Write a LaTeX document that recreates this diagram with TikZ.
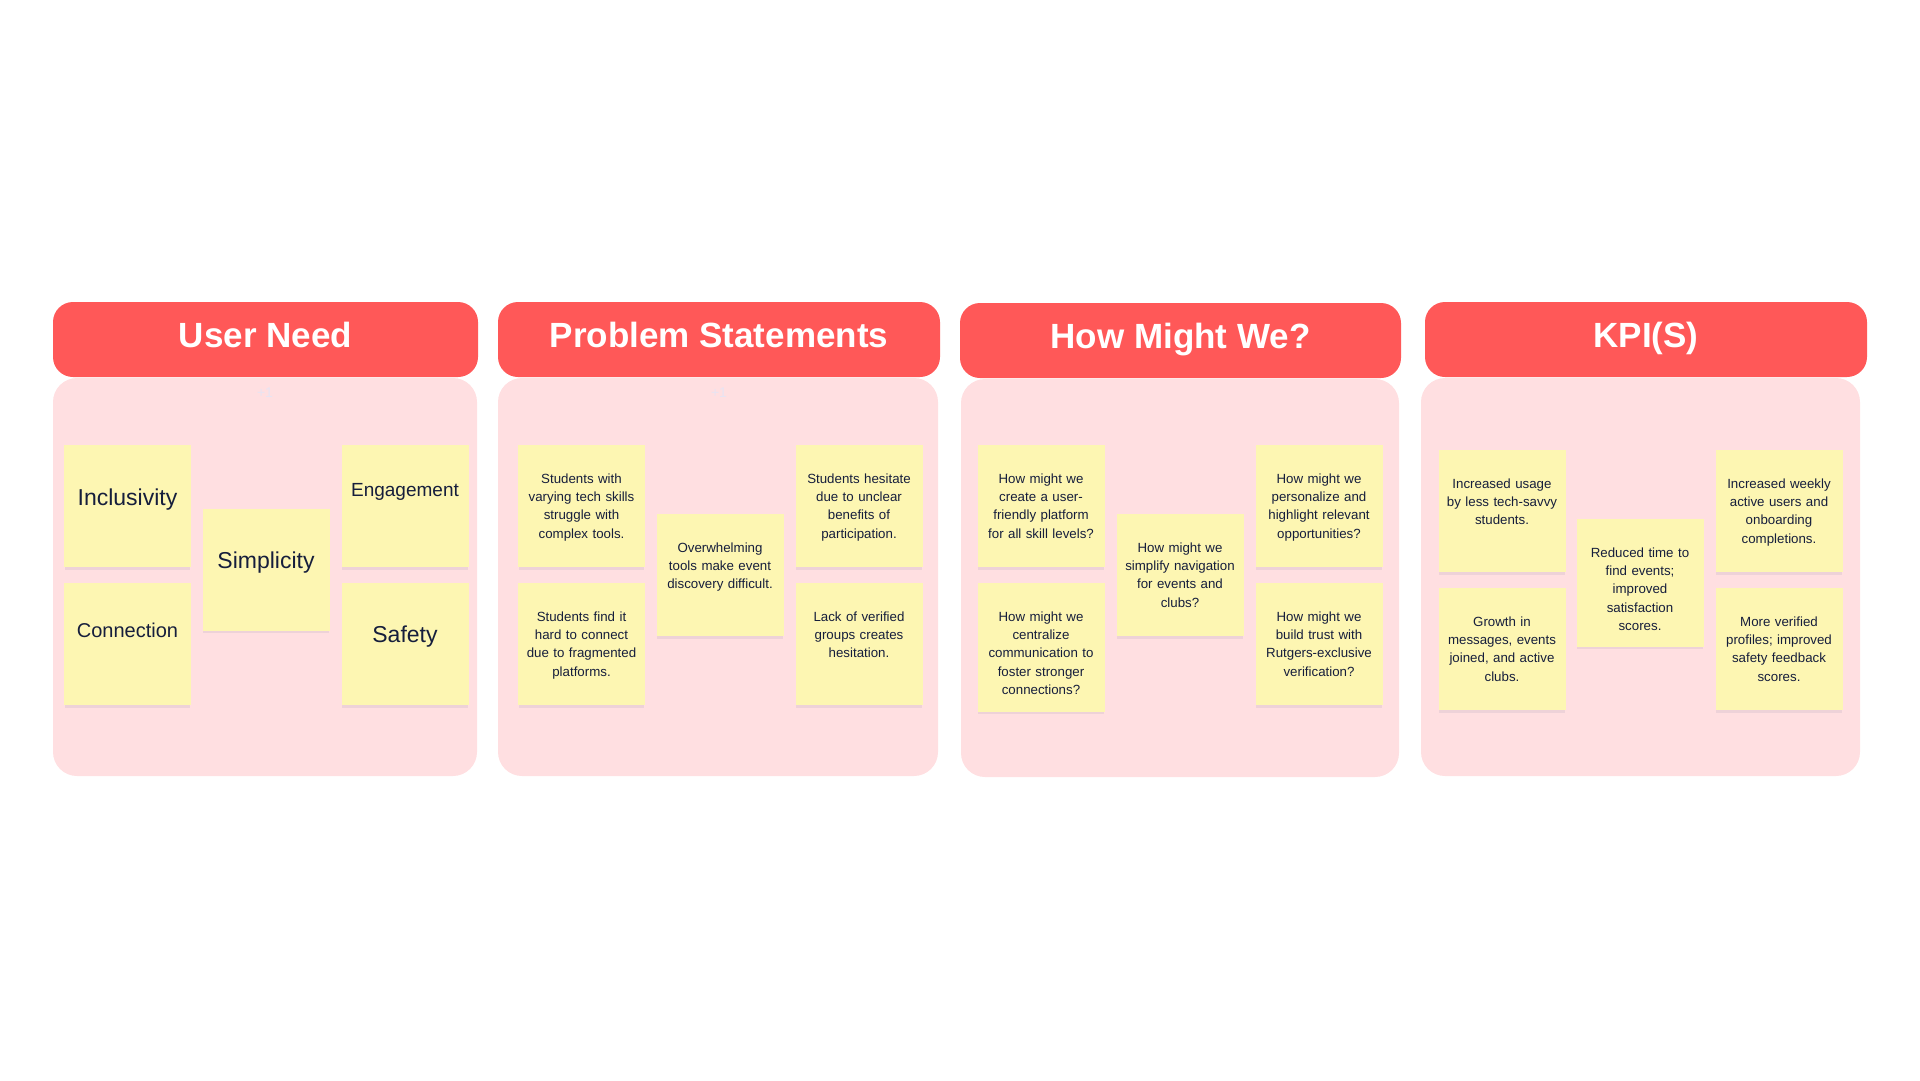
\documentclass[tikz,border=0pt]{standalone}
\usepackage{fontspec}
\setmainfont{Liberation Sans}
\usetikzlibrary{shadows}

\definecolor{headred}{RGB}{255,88,88}
\definecolor{boardpink}{RGB}{255,223,225}
\definecolor{noteyellow}{RGB}{253,246,178}
\definecolor{noteshadow}{RGB}{238,210,216}
\definecolor{inknavy}{RGB}{22,30,60}
\definecolor{faintmark}{RGB}{232,228,242}

\begin{document}
\begin{tikzpicture}[x=1pt, y=-1pt,
        header/.style={rectangle, rounded corners=20pt, fill=headred, minimum width=442pt, minimum height=75pt, inner sep=0pt, text=white, font=\fontsize{35}{40}\selectfont\bfseries, text height=25pt, text depth=10pt},
        board/.style={rectangle, rounded corners=24pt, fill=boardpink, minimum width=439pt, minimum height=398pt, inner sep=0pt},
        sticky/.style={rectangle, fill=noteyellow, text=inknavy, inner xsep=3pt, inner ysep=0pt, text width=121pt, align=center, text height=38pt, text depth=84pt, font=\fontsize{13.3}{18.4}\selectfont, drop shadow={shadow xshift=0pt, shadow yshift=-3.5pt, shadow scale=0.985, fill=noteshadow, opacity=1}},
        word/.style={font=\fontsize{23}{28}\selectfont, text height=60pt, text depth=62pt},
        plusmark/.style={text=faintmark, font=\fontsize{14}{16}\selectfont}
    ]
        \useasboundingbox (0,0) rectangle (1920,1080);

        % Boards and headers
        \node[board, minimum width=424pt] (un_board) at (265,577) {};
        \node[header, minimum width=425pt] (un_head) at (265.5,339.5) {User Need};
        \node[board, minimum width=440pt] (ps_board) at (718,577) {};
        \node[header] (ps_head) at (719,339.5) {Problem Statements};
        \node[board, minimum width=438pt] (hmw_board) at (1180,578) {};
        \node[header, minimum width=441pt] (hmw_head) at (1180.5,340.5) {How Might We?};
        \node[board] (kpi_board) at (1640.5,577) {};
        \node[header] (kpi_head) at (1646,339.5) {KPI(S)};

        \node[plusmark] (un_plus) at (265,393) {+1};
        \node[plusmark] (ps_plus) at (719,393) {+1};

        % User Need: five single words
        \node[sticky, word] (un_incl) at (127.5,506) {Inclusivity};
        \node[sticky, word, font=\fontsize{20}{24}\selectfont, text height=54pt, text depth=68pt] (un_conn) at (127.5,644) {Connection};
        \node[sticky, word] (un_simp) at (266,569.5) {Simplicity};
        \node[sticky, word, font=\fontsize{19}{23}\selectfont, text height=51pt, text depth=71pt] (un_enga) at (405,506) {Engagement};
        \node[sticky, word, text height=59pt, text depth=63pt] (un_safe) at (405,644) {Safety};

        % Problem Statements
        \node[sticky] (ps_tech) at (581.5,506) {Students with\\varying tech skills\\struggle with\\complex tools.};
        \node[sticky] (ps_frag) at (581.5,644) {Students find it\\hard to connect\\due to fragmented\\platforms.};
        \node[sticky] (ps_over) at (720,575) {Overwhelming\\tools make event\\discovery difficult.};
        \node[sticky] (ps_hesi) at (859,506) {Students hesitate\\due to unclear\\benefits of\\participation.};
        \node[sticky] (ps_veri) at (859,644) {Lack of verified\\groups creates\\hesitation.};

        % How Might We?
        \node[sticky] (hmw_user) at (1041,506) {How might we\\create a user-\\friendly platform\\for all skill levels?};
        \node[sticky, text depth=91pt] (hmw_comm) at (1041,647.5) {How might we\\centralize\\communication to\\foster stronger\\connections?};
        \node[sticky] (hmw_navi) at (1180,575) {How might we\\simplify navigation\\for events and\\clubs?};
        \node[sticky] (hmw_pers) at (1319,506) {How might we\\personalize and\\highlight relevant\\opportunities?};
        \node[sticky] (hmw_trust) at (1319,644) {How might we\\build trust with\\Rutgers-exclusive\\verification?};

        % KPI(S)
        \node[sticky] (kpi_usage) at (1502,511) {Increased usage\\by less tech-savvy\\students.};
        \node[sticky] (kpi_growth) at (1502,649) {Growth in\\messages, events\\joined, and active\\clubs.};
        \node[sticky, text depth=90pt] (kpi_time) at (1640,583) {Reduced time to\\find events;\\improved\\satisfaction\\scores.};
        \node[sticky] (kpi_weekly) at (1779,511) {Increased weekly\\active users and\\onboarding\\completions.};
        \node[sticky] (kpi_profiles) at (1779,649) {More verified\\profiles; improved\\safety feedback\\scores.};

    \end{tikzpicture}
\end{document}
